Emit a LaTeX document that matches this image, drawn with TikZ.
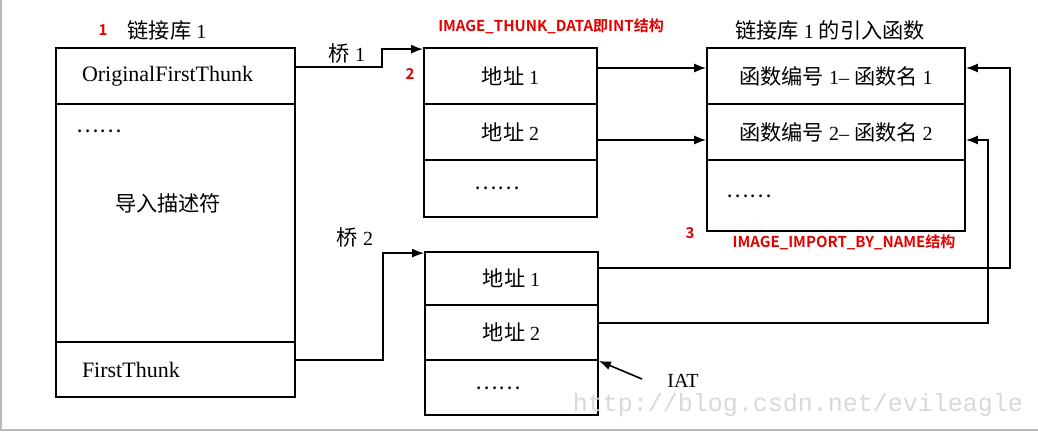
\documentclass[tikz,border=0pt]{standalone}
\usepackage{fontspec}
\setmainfont{Liberation Serif}
\setmonofont{Liberation Mono}
\newfontfamily\cjk[Scale=1.06]{Noto Sans CJK SC}
\newfontfamily\redf{Noto Sans CJK SC Bold}
\usetikzlibrary{arrows.meta}
\tikzset{
  lbl/.style={inner sep=0pt, font=\fontsize{20}{22}\selectfont},
  cellbox/.style={draw, line width=1.8pt, inner sep=0pt, font=\fontsize{20}{22}\selectfont},
  leftrow/.style={cellbox, minimum height=#1, text width=187pt, align=left, inner xsep=26pt, font=\fontsize{22}{24}\selectfont},
  midrow/.style={cellbox, minimum width=173pt, minimum height=#1},
  rightrow/.style={cellbox, minimum width=258pt, minimum height=#1},
  redlbl/.style={inner sep=0pt, text=red!90!black, font=\redf\fontsize{15}{16}\selectfont},
  arr/.style={-{Latex[length=12pt,width=9pt]}, line width=1.6pt},
}
\begin{document}
\begin{tikzpicture}[x=1pt,y=-1pt]
\useasboundingbox (0,0) rectangle (1038,432);
\fill[white] (0,0) rectangle (1038,432);
\draw[gray!55, line width=2pt] (1,0) -- (1,430) -- (1038,430);

% left box
\node[redlbl] (n1) at (103,30) {1};
\node[lbl] (t1) at (167,30) {{\cjk 链接库}~1};
\node[leftrow=56pt] (oft) at (175.5,76) {OriginalFirstThunk};
\node[cellbox, minimum width=239pt, minimum height=238pt] (desc) at (175.5,223) {};
\node[lbl] (ddots) at (99,131) {\cjk ……};
\node[lbl] (dtext) at (168,203) {\cjk 导入描述符};
\node[leftrow=55pt] (ft) at (175.5,369.5) {FirstThunk};

% middle top box (INT)
\node[redlbl] (tint) at (551,26) {IMAGE\_THUNK\_DATA即INT结构};
\node[redlbl] (n2) at (410,74) {2};
\node[midrow=56pt] (m1) at (510.5,76) {{\cjk 地址}~1};
\node[midrow=56pt] (m2) at (510.5,132) {{\cjk 地址}~2};
\node[midrow=57pt] (m3) at (510.5,188.5) {};
\node[lbl] (mdots) at (497,188) {\cjk ……};

% middle bottom box (IAT)
\node[midrow=53pt] (b1) at (511.5,278.5) {{\cjk 地址}~1};
\node[midrow=55pt] (b2) at (511.5,332.5) {{\cjk 地址}~2};
\node[midrow=55pt] (b3) at (511.5,387.5) {};
\node[lbl] (bdots) at (498,388) {\cjk ……};

% right box
\node[lbl] (t2) at (830,30) {{\cjk 链接库}~1~{\cjk 的引入函数}};
\node[rightrow=56pt] (r1) at (836,76) {{\cjk 函数编号}~1–~{\cjk 函数名}~1};
\node[rightrow=56pt] (r2) at (836,132) {{\cjk 函数编号}~2–~{\cjk 函数名}~2};
\node[rightrow=71pt] (r3) at (836,195.5) {};
\node[lbl] (rdots) at (749,196) {\cjk ……};
\node[redlbl] (n3) at (690,233) {3};
\node[redlbl] (tibn) at (844,242) {IMAGE\_IMPORT\_BY\_NAME结构};

% bridges
\node[lbl] (q1) at (347,53) {{\cjk 桥}~1};
\node[lbl] (q2) at (355,237) {{\cjk 桥}~2};
\draw[arr] ([yshift=9pt]oft.east) -- ++(86,0) |- ([yshift=-2pt]m1.north west);
\draw[arr] ([yshift=9.5pt]ft.east) -- ++(87,0) |- ([yshift=-2pt]b1.north west);

% INT -> names
\draw[arr] ([yshift=8pt]m1.east) -- ([yshift=8pt]r1.west);
\draw[arr] ([yshift=-8pt]m2.east) -- ([yshift=-8pt]r2.west);

% IAT -> names
\draw[arr] ([yshift=10.5pt]b1.east) -- ++(411,0) |- ([yshift=8pt]r1.east);
\draw[arr] ([yshift=9.5pt]b2.east) -- ++(389,0) |- ([yshift=-8pt]r2.east);

% IAT label
\node[lbl] (iat) at (683,381) {IAT};
\coordinate (iattail) at (642,379);
\draw[arr] (iattail) -- (b2.south east);

% watermark
\node[inner sep=0pt, text=gray!30, font=\ttfamily\fontsize{25}{25}\selectfont] (wm) at (798,405) {http://blog.csdn.net/evileagle};
\end{tikzpicture}
\end{document}
